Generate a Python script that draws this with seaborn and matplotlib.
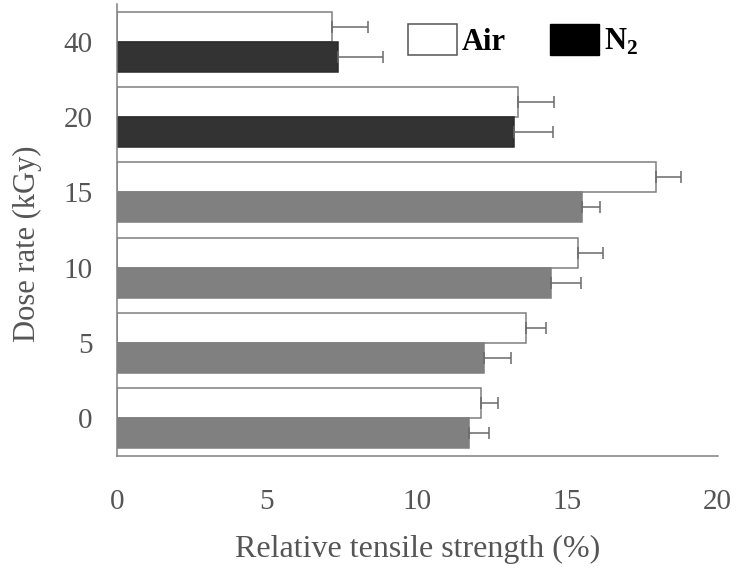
import matplotlib
matplotlib.use("Agg")
import matplotlib.pyplot as plt
import matplotlib.patches as mpatches
from matplotlib.font_manager import FontProperties
import seaborn as sns
import pandas as pd
import numpy as np

doses = ["40", "20", "15", "10", "5", "0"]
air_values = [7.18, 13.37, 17.94, 15.36, 13.61, 12.12]
air_errors = [1.17, 1.18, 0.83, 0.82, 0.67, 0.58]
n2_values = [7.36, 13.23, 15.48, 14.45, 12.22, 11.71]
n2_errors = [1.50, 1.28, 0.59, 0.99, 0.91, 0.67]
xticks = [0, 5, 10, 15, 20]

df = pd.DataFrame({
    "dose": doses * 2,
    "value": air_values + n2_values,
    "atm": ["Air"] * len(doses) + ["N2"] * len(doses),
})

sns.set_theme(style="white")
plt.rcParams["font.family"] = ["Liberation Serif", "DejaVu Serif"]
plt.rcParams["mathtext.fontset"] = "custom"
plt.rcParams["mathtext.rm"] = "Liberation Serif"
plt.rcParams["mathtext.bf"] = "Liberation Serif:bold"

fig = plt.figure(figsize=(7.39, 5.82), dpi=100)
ax = fig.add_axes([0.1579, 0.2165, 0.8133, 0.7766])

edge = "#7f7f7f"
sns.barplot(data=df, y="dose", x="value", hue="atm", order=doses,
            hue_order=["Air", "N2"], orient="h",
            palette={"Air": "white", "N2": "#333333"},
            width=0.8, legend=False, errorbar=None, ax=ax,
            edgecolor=edge, linewidth=1.1)

# N2 bars for lower dose groups are rendered in medium grey
n2_container = ax.containers[1]
for i, bar in enumerate(n2_container):
    if doses[i] in ("15", "10", "5", "0"):
        bar.set_facecolor("#808080")
    else:
        bar.set_edgecolor("#2a2a2a")

for cont, errs in zip(ax.containers, [air_errors, n2_errors]):
    ys = [b.get_y() + b.get_height() / 2 for b in cont]
    xs = [b.get_width() for b in cont]
    ax.errorbar(xs, ys, xerr=[np.zeros(len(errs)), errs], fmt="none",
                ecolor="#6a6a6a", elinewidth=1.1, capsize=4, capthick=1.1)

ax.set_xlim(0, 20)
ax.set_ylim(5.5, -0.5)
ax.set_xticks(xticks)
ax.set_xticklabels([str(t) for t in xticks])

for side in ["top", "right"]:
    ax.spines[side].set_visible(False)
for side in ["left", "bottom"]:
    ax.spines[side].set_color("#808080")
    ax.spines[side].set_linewidth(1.1)

ax.tick_params(axis="x", direction="in", length=6, width=1.1, color="#808080",
               pad=24, labelsize=21, labelcolor="#555555")
ax.tick_params(axis="y", length=0, pad=17.5, labelsize=21, labelcolor="#555555")

ax.set_xlabel("Relative tensile strength (%)", fontsize=23, color="#555555", labelpad=14)
ax.set_ylabel("Dose rate (kGy)", fontsize=22, color="#555555")
# label centre sits at x~28 px, y~244 px in the figure
ax.yaxis.set_label_coords(-0.148, 0.469)
ax.yaxis.label.set_va("center")

handles = [
    mpatches.Patch(facecolor="white", edgecolor="#555555", linewidth=1.1, label="Air"),
    mpatches.Patch(facecolor="black", edgecolor="black", label="N$_\\mathbf{2}$"),
]
legend_font = FontProperties(family="Liberation Serif", weight="bold", size=22)
leg = fig.legend(handles=handles, loc="center", bbox_to_anchor=(0.7077, 0.931),
                 bbox_transform=fig.transFigure, ncol=2, frameon=False,
                 prop=legend_font, handlelength=1.6,
                 handleheight=1.18, handletextpad=0.16, columnspacing=1.44)
for t in leg.get_texts():
    t.set_color("black")

fig.savefig("out.png", dpi=100)
